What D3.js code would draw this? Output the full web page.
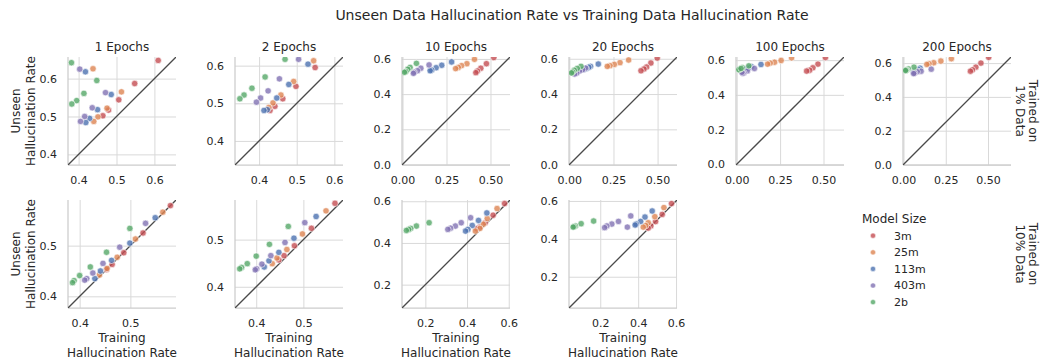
<!DOCTYPE html>
<html>
<head>
<meta charset="utf-8">
<script src="https://cdn.jsdelivr.net/npm/d3@7"></script>
<style>
  body { margin: 0; background: #fff; }
  text { font-family: "DejaVu Sans", sans-serif; fill: #262626; }
</style>
</head>
<body>
<svg id="chart" width="1042" height="360"></svg>
<script>
// ---- data ---------------------------------------------------------------
const modelSizes = ["3m", "25m", "113m", "403m", "2b"];
const sizeColors = ["#c44e52", "#dd8452", "#4c72b0", "#8172b3", "#55a868"];
const epochTitles = ["1 Epochs", "2 Epochs", "10 Epochs", "20 Epochs", "100 Epochs", "200 Epochs"];
const rowTitles = [["Trained on", "1% Data"], ["Trained on", "10% Data"]];

// each row: [model size, training hallucination rate, unseen hallucination rate]
const pct1Ep1 = [
  ["3m", 0.610, 0.648], ["3m", 0.548, 0.587], ["3m", 0.506, 0.544], ["3m", 0.479, 0.517], ["3m", 0.464, 0.502],
  ["25m", 0.438, 0.626], ["25m", 0.513, 0.565], ["25m", 0.475, 0.522], ["25m", 0.451, 0.499], ["25m", 0.440, 0.487],
  ["113m", 0.418, 0.618], ["113m", 0.486, 0.558], ["113m", 0.450, 0.518], ["113m", 0.429, 0.495], ["113m", 0.419, 0.484],
  ["403m", 0.403, 0.625], ["403m", 0.471, 0.563], ["403m", 0.436, 0.523], ["403m", 0.416, 0.500], ["403m", 0.405, 0.487],
  ["2b", 0.381, 0.642], ["2b", 0.448, 0.595], ["2b", 0.414, 0.561], ["2b", 0.395, 0.542], ["2b", 0.382, 0.533]
];
const pct1Ep2 = [
  ["3m", 0.549, 0.595], ["3m", 0.498, 0.545], ["3m", 0.463, 0.512], ["3m", 0.442, 0.492], ["3m", 0.429, 0.481],
  ["25m", 0.545, 0.613], ["25m", 0.492, 0.558], ["25m", 0.458, 0.522], ["25m", 0.437, 0.501], ["25m", 0.426, 0.489],
  ["113m", 0.530, 0.604], ["113m", 0.479, 0.550], ["113m", 0.447, 0.514], ["113m", 0.422, 0.483], ["113m", 0.413, 0.481],
  ["403m", 0.505, 0.617], ["403m", 0.454, 0.565], ["403m", 0.424, 0.533], ["403m", 0.404, 0.514], ["403m", 0.393, 0.503],
  ["2b", 0.469, 0.617], ["2b", 0.416, 0.570], ["2b", 0.381, 0.540], ["2b", 0.360, 0.522], ["2b", 0.349, 0.512]
];
const pct1Ep10 = [
  ["3m", 0.519, 0.608], ["3m", 0.477, 0.573], ["3m", 0.445, 0.547], ["3m", 0.426, 0.531], ["3m", 0.417, 0.522],
  ["25m", 0.409, 0.598], ["25m", 0.366, 0.573], ["25m", 0.336, 0.562], ["25m", 0.317, 0.552], ["25m", 0.302, 0.545],
  ["113m", 0.279, 0.583], ["113m", 0.223, 0.564], ["113m", 0.191, 0.550], ["113m", 0.166, 0.537], ["113m", 0.157, 0.533],
  ["403m", 0.151, 0.566], ["403m", 0.104, 0.547], ["403m", 0.085, 0.533], ["403m", 0.066, 0.524], ["403m", 0.062, 0.518],
  ["2b", 0.079, 0.575], ["2b", 0.043, 0.552], ["2b", 0.030, 0.541], ["2b", 0.019, 0.528], ["2b", 0.011, 0.524]
];
const pct1Ep20 = [
  ["3m", 0.498, 0.604], ["3m", 0.462, 0.576], ["3m", 0.438, 0.553], ["3m", 0.423, 0.542], ["3m", 0.406, 0.532],
  ["25m", 0.336, 0.593], ["25m", 0.287, 0.578], ["25m", 0.255, 0.568], ["25m", 0.230, 0.561], ["25m", 0.215, 0.557],
  ["113m", 0.164, 0.570], ["113m", 0.120, 0.557], ["113m", 0.110, 0.552], ["113m", 0.096, 0.545], ["113m", 0.085, 0.540],
  ["403m", 0.092, 0.547], ["403m", 0.075, 0.538], ["403m", 0.057, 0.530], ["403m", 0.042, 0.519], ["403m", 0.030, 0.514],
  ["2b", 0.066, 0.557], ["2b", 0.045, 0.545], ["2b", 0.028, 0.535], ["2b", 0.019, 0.525], ["2b", 0.012, 0.520]
];
const pct1Ep100 = [
  ["3m", 0.511, 0.615], ["3m", 0.468, 0.577], ["3m", 0.439, 0.556], ["3m", 0.420, 0.542], ["3m", 0.403, 0.537],
  ["25m", 0.316, 0.613], ["25m", 0.256, 0.598], ["25m", 0.218, 0.588], ["25m", 0.193, 0.583], ["25m", 0.178, 0.577],
  ["113m", 0.140, 0.575], ["113m", 0.085, 0.562], ["113m", 0.070, 0.556], ["113m", 0.060, 0.552], ["113m", 0.050, 0.548],
  ["403m", 0.102, 0.552], ["403m", 0.061, 0.538], ["403m", 0.042, 0.527], ["403m", 0.035, 0.524], ["403m", 0.030, 0.530],
  ["2b", 0.070, 0.567], ["2b", 0.032, 0.556], ["2b", 0.019, 0.548], ["2b", 0.012, 0.545], ["2b", 0.025, 0.552]
];
const pct1Ep200 = [
  ["3m", 0.504, 0.634], ["3m", 0.458, 0.600], ["3m", 0.428, 0.576], ["3m", 0.408, 0.560], ["3m", 0.396, 0.552],
  ["25m", 0.283, 0.626], ["25m", 0.221, 0.612], ["25m", 0.179, 0.602], ["25m", 0.151, 0.596], ["25m", 0.138, 0.592],
  ["113m", 0.098, 0.570], ["113m", 0.088, 0.562], ["113m", 0.075, 0.556], ["113m", 0.068, 0.550], ["113m", 0.060, 0.545],
  ["403m", 0.164, 0.564], ["403m", 0.104, 0.552], ["403m", 0.081, 0.549], ["403m", 0.066, 0.541], ["403m", 0.060, 0.538],
  ["2b", 0.062, 0.576], ["2b", 0.028, 0.566], ["2b", 0.019, 0.560], ["2b", 0.015, 0.558], ["2b", 0.012, 0.556]
];
const pct10Ep1 = [
  ["3m", 0.579, 0.579], ["3m", 0.525, 0.525], ["3m", 0.487, 0.486], ["3m", 0.464, 0.463], ["3m", 0.453, 0.453],
  ["25m", 0.564, 0.566], ["25m", 0.510, 0.513], ["25m", 0.474, 0.477], ["25m", 0.454, 0.455], ["25m", 0.439, 0.442],
  ["113m", 0.549, 0.555], ["113m", 0.499, 0.505], ["113m", 0.463, 0.471], ["113m", 0.441, 0.450], ["113m", 0.430, 0.435],
  ["403m", 0.530, 0.544], ["403m", 0.479, 0.497], ["403m", 0.446, 0.465], ["403m", 0.426, 0.446], ["403m", 0.414, 0.435], ["403m", 0.410, 0.432],
  ["2b", 0.499, 0.534], ["2b", 0.453, 0.487], ["2b", 0.421, 0.458], ["2b", 0.400, 0.441], ["2b", 0.389, 0.431], ["2b", 0.386, 0.427]
];
const pct10Ep2 = [
  ["3m", 0.567, 0.577], ["3m", 0.517, 0.524], ["3m", 0.481, 0.487], ["3m", 0.459, 0.466], ["3m", 0.448, 0.457],
  ["25m", 0.548, 0.561], ["25m", 0.498, 0.512], ["25m", 0.465, 0.479], ["25m", 0.444, 0.461], ["25m", 0.434, 0.449],
  ["113m", 0.527, 0.549], ["113m", 0.480, 0.503], ["113m", 0.448, 0.473], ["113m", 0.427, 0.455], ["113m", 0.417, 0.442],
  ["403m", 0.503, 0.536], ["403m", 0.461, 0.494], ["403m", 0.431, 0.466], ["403m", 0.412, 0.448], ["403m", 0.401, 0.438], ["403m", 0.398, 0.436],
  ["2b", 0.468, 0.528], ["2b", 0.428, 0.490], ["2b", 0.400, 0.465], ["2b", 0.381, 0.449], ["2b", 0.369, 0.441], ["2b", 0.365, 0.438]
];
const pct10Ep10 = [
  ["3m", 0.580, 0.589], ["3m", 0.525, 0.533], ["3m", 0.487, 0.497], ["3m", 0.460, 0.476], ["3m", 0.447, 0.468],
  ["25m", 0.544, 0.565], ["25m", 0.497, 0.517], ["25m", 0.478, 0.490], ["25m", 0.462, 0.470], ["25m", 0.440, 0.457],
  ["113m", 0.495, 0.544], ["113m", 0.455, 0.508], ["113m", 0.425, 0.484], ["113m", 0.404, 0.465], ["113m", 0.393, 0.457],
  ["403m", 0.417, 0.521], ["403m", 0.372, 0.497], ["403m", 0.344, 0.481], ["403m", 0.321, 0.471], ["403m", 0.308, 0.465],
  ["2b", 0.218, 0.497], ["2b", 0.157, 0.481], ["2b", 0.130, 0.470], ["2b", 0.120, 0.465], ["2b", 0.109, 0.460]
];
const pct10Ep20 = [
  ["3m", 0.576, 0.586], ["3m", 0.527, 0.529], ["3m", 0.492, 0.491], ["3m", 0.467, 0.468], ["3m", 0.453, 0.457],
  ["25m", 0.536, 0.565], ["25m", 0.488, 0.517], ["25m", 0.453, 0.485], ["25m", 0.440, 0.470], ["25m", 0.427, 0.462],
  ["113m", 0.474, 0.547], ["113m", 0.436, 0.515], ["113m", 0.413, 0.492], ["113m", 0.390, 0.478], ["113m", 0.384, 0.473],
  ["403m", 0.361, 0.521], ["403m", 0.343, 0.462], ["403m", 0.296, 0.492], ["403m", 0.261, 0.478], ["403m", 0.235, 0.468], ["403m", 0.223, 0.459],
  ["2b", 0.165, 0.494], ["2b", 0.099, 0.480], ["2b", 0.069, 0.468], ["2b", 0.062, 0.465], ["2b", 0.057, 0.462]
];

// axis limits (shared by both axes of a panel) and tick values
const panelLimits = [
  [[0.372, 0.657], [0.336, 0.623], [-0.003, 0.611], [-0.002, 0.610], [-0.004, 0.618], [-0.003, 0.636]],
  [[0.377, 0.590], [0.355, 0.584], [0.088, 0.606], [0.035, 0.605]]
];
const ticksTenths = [0.4, 0.5, 0.6];
const ticksQuarterX = [0, 0.25, 0.5];
const ticksFifthsY = [0, 0.2, 0.4, 0.6];
const ticksShort = [0.4, 0.5];
const ticksFifths = [0.2, 0.4, 0.6];

const panels = [
  { row: 0, col: 0, data: pct1Ep1,   xt: ticksTenths,   yt: ticksTenths,  xf: ".1f" },
  { row: 0, col: 1, data: pct1Ep2,   xt: ticksTenths,   yt: ticksTenths,  xf: ".1f" },
  { row: 0, col: 2, data: pct1Ep10,  xt: ticksQuarterX, yt: ticksFifthsY, xf: ".2f" },
  { row: 0, col: 3, data: pct1Ep20,  xt: ticksQuarterX, yt: ticksFifthsY, xf: ".2f" },
  { row: 0, col: 4, data: pct1Ep100, xt: ticksQuarterX, yt: ticksFifthsY, xf: ".2f" },
  { row: 0, col: 5, data: pct1Ep200, xt: ticksQuarterX, yt: ticksFifthsY, xf: ".2f" },
  { row: 1, col: 0, data: pct10Ep1,  xt: ticksShort,    yt: ticksShort,   xf: ".1f" },
  { row: 1, col: 1, data: pct10Ep2,  xt: ticksShort,    yt: ticksShort,   xf: ".1f" },
  { row: 1, col: 2, data: pct10Ep10, xt: ticksFifths,   yt: ticksFifths,  xf: ".1f" },
  { row: 1, col: 3, data: pct10Ep20, xt: ticksFifths,   yt: ticksFifths,  xf: ".1f" }
];

// ---- layout -------------------------------------------------------------
const svg = d3.select("#chart");
const PW = 108, PH = 108;
const colX = [68, 235, 402, 569, 736, 903];
const rowY = [57, 200];
const color = d3.scaleOrdinal(modelSizes, sizeColors);
const gridColor = "#d9d9d9";
const spineColor = "#cccccc";

svg.append("text")
  .attr("x", 572).attr("y", 20)
  .attr("text-anchor", "middle")
  .style("font-size", "14px")
  .text("Unseen Data Hallucination Rate vs Training Data Hallucination Rate");

panels.forEach((p, i) => {
  const lim = panelLimits[p.row][p.col];
  const x = d3.scaleLinear().domain(lim).range([0, PW]);
  const y = d3.scaleLinear().domain(lim).range([PH, 0]);
  const g = svg.append("g").attr("transform", `translate(${colX[p.col]},${rowY[p.row]})`);

  const clipId = "clip" + i;
  g.append("clipPath").attr("id", clipId)
    .append("rect").attr("width", PW).attr("height", PH);

  // grid
  g.append("g").attr("transform", `translate(0,${PH})`)
    .call(d3.axisBottom(x).tickValues(p.xt).tickSize(-PH).tickFormat(""))
    .call(a => a.select(".domain").remove())
    .selectAll("line").attr("stroke", gridColor).attr("stroke-width", 1);
  g.append("g")
    .call(d3.axisLeft(y).tickValues(p.yt).tickSize(-PW).tickFormat(""))
    .call(a => a.select(".domain").remove())
    .selectAll("line").attr("stroke", gridColor).attr("stroke-width", 1);

  // tick labels
  const xAxis = g.append("g").attr("transform", `translate(0,${PH})`)
    .call(d3.axisBottom(x).tickValues(p.xt).tickSize(0).tickPadding(11).tickFormat(d3.format(p.xf)));
  const yAxis = g.append("g")
    .call(d3.axisLeft(y).tickValues(p.yt).tickSize(0).tickPadding(11).tickFormat(d3.format(".1f")));
  [xAxis, yAxis].forEach(a => {
    a.select(".domain").remove();
    a.selectAll("text").style("font-size", "11px").style("font-family", "DejaVu Sans, sans-serif").attr("fill", "#262626");
  });

  // left and bottom spines
  g.append("line").attr("x1", 0).attr("x2", 0).attr("y1", 0).attr("y2", PH)
    .attr("stroke", spineColor).attr("stroke-width", 1.25);
  g.append("line").attr("x1", 0).attr("x2", PW).attr("y1", PH).attr("y2", PH)
    .attr("stroke", spineColor).attr("stroke-width", 1.25);

  const plot = g.append("g").attr("clip-path", `url(#${clipId})`);

  // y = x reference line
  plot.append("line")
    .attr("x1", x(lim[0])).attr("y1", y(lim[0]))
    .attr("x2", x(lim[1])).attr("y2", y(lim[1]))
    .attr("stroke", "#4a4a4a").attr("stroke-width", 1.3);

  plot.selectAll("circle").data(p.data).join("circle")
    .attr("cx", d => x(d[1]))
    .attr("cy", d => y(d[2]))
    .attr("r", 3.2)
    .attr("fill", d => color(d[0]))
    .attr("fill-opacity", 0.8)
    .attr("stroke", "#fff")
    .attr("stroke-width", 0.6);

  // column titles
  if (p.row === 0) {
    g.append("text").attr("x", PW / 2).attr("y", -6)
      .attr("text-anchor", "middle").style("font-size", "12px")
      .text(epochTitles[p.col]);
  }
  // y axis title
  if (p.col === 0) {
    const t = svg.append("text")
      .attr("transform", `translate(27,${rowY[p.row] + PH / 2}) rotate(-90)`)
      .attr("text-anchor", "middle").style("font-size", "12px");
    t.append("tspan").attr("x", 0).attr("y", -7.5).text("Unseen");
    t.append("tspan").attr("x", 0).attr("y", 7.5).text("Hallucination Rate");
  }
  // x axis title on bottom row
  if (p.row === 1) {
    const t = g.append("text").attr("text-anchor", "middle").style("font-size", "12px");
    t.append("tspan").attr("x", PW / 2).attr("y", PH + 34).text("Training");
    t.append("tspan").attr("x", PW / 2).attr("y", PH + 49).text("Hallucination Rate");
  }
});

// row titles on the right
rowTitles.forEach((lines, r) => {
  const t = svg.append("text")
    .attr("transform", `translate(1025,${rowY[r] + PH / 2}) rotate(90)`)
    .attr("text-anchor", "middle").style("font-size", "12px");
  t.append("tspan").attr("x", 0).attr("y", -4).text(lines[0]);
  t.append("tspan").attr("x", 0).attr("y", 9.5).text(lines[1]);
});

// legend
const legend = svg.append("g").attr("transform", "translate(862,222.5)");
legend.append("text").style("font-size", "12px").text("Model Size");
modelSizes.forEach((s, i) => {
  const cy = 13.2 + i * 16.6;
  legend.append("circle").attr("cx", 11).attr("cy", cy).attr("r", 2.6)
    .attr("fill", color(s)).attr("fill-opacity", 0.8)
    .attr("stroke", "#fff").attr("stroke-width", 0.5);
  legend.append("text").attr("x", 32).attr("y", cy + 3.8)
    .style("font-size", "11px").text(s);
});
</script>
</body>
</html>
